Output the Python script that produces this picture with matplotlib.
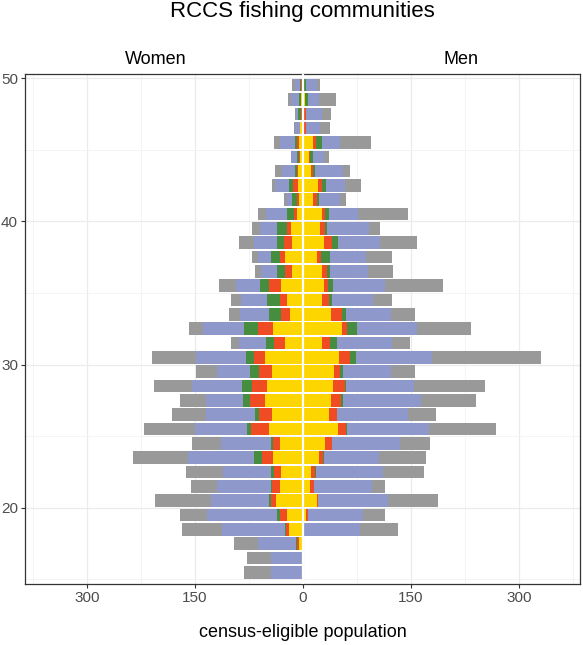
import matplotlib
matplotlib.use("Agg")
import matplotlib.pyplot as plt
import numpy as np

plt.rcParams["font.family"] = ["Liberation Sans", "DejaVu Sans"]

# ages 15..49, each bar covers [age, age+1)
ages = np.arange(15, 50)

# women, counts per category (stacked outward from 0)
w_yellow = [0, 0, 5, 19, 22, 38, 32, 31, 42, 32, 47, 43, 53, 50, 43, 53, 25, 42, 18, 22,
            31, 15, 25, 15, 17, 8, 5, 7, 7, 4, 6, 4, 0, 3, 0]
w_red = [0, 0, 3, 5, 10, 6, 11, 9, 15, 10, 25, 18, 21, 21, 18, 15, 15, 20, 13, 10,
         16, 10, 7, 11, 5, 4, 3, 7, 1, 1, 2, 0, 3, 0, 2]
w_green = [0, 0, 1, 1, 4, 3, 1, 4, 11, 2, 6, 6, 9, 14, 13, 11, 11, 20, 16, 18,
           13, 11, 12, 10, 14, 10, 7, 5, 3, 3, 3, 0, 4, 3, 2]
w_blue = [44, 44, 54, 88, 97, 81, 75, 67, 92, 70, 72, 68, 52, 69, 45, 70, 38, 57, 41, 36,
          33, 22, 18, 32, 24, 29, 7, 20, 18, 9, 21, 7, 3, 10, 7]
w_gray = [38, 34, 33, 55, 38, 78, 37, 52, 76, 40, 71, 47, 36, 53, 30, 61, 11, 19, 15, 14,
          24, 9, 9, 21, 11, 11, 4, 4, 10, 0, 8, 1, 1, 5, 4]

# men
m_yellow = [0, 0, 0, 0, 4, 19, 10, 12, 22, 31, 49, 36, 39, 42, 43, 50, 26, 54, 39, 26,
            29, 26, 19, 29, 24, 26, 14, 21, 11, 8, 14, 2, 0, 3, 0]
m_red = [0, 0, 0, 2, 3, 2, 5, 5, 6, 9, 11, 11, 14, 16, 8, 15, 12, 8, 15, 10,
         6, 7, 6, 11, 7, 5, 5, 5, 3, 2, 4, 2, 4, 0, 0]
m_green = [0, 0, 0, 0, 0, 0, 0, 1, 1, 0, 1, 0, 3, 2, 5, 9, 9, 13, 6, 4,
           7, 5, 13, 9, 2, 5, 3, 6, 3, 4, 8, 0, 0, 4, 5]
m_blue = [0, 0, 0, 77, 77, 97, 81, 93, 77, 95, 114, 99, 108, 94, 67, 105, 77, 83, 62, 58,
          72, 52, 50, 58, 59, 40, 29, 26, 39, 15, 25, 20, 22, 16, 15]
m_gray = [0, 0, 0, 53, 30, 70, 18, 57, 65, 41, 94, 39, 76, 99, 33, 152, 25, 75, 34, 26,
          80, 35, 36, 51, 15, 70, 9, 23, 9, 8, 43, 14, 13, 23, 4]

colors = ["#FDD600", "#F04C23", "#478D3F", "#8F98CA", "#999999"]

fig = plt.figure(figsize=(5.83, 6.45), dpi=100)
ax = fig.add_axes([25 / 583, 1 - 584 / 645, 555 / 583, 510 / 645])

y = ages + 0.5
h = 0.88
for side, series in ((-1, [w_yellow, w_red, w_green, w_blue, w_gray]),
                     (1, [m_yellow, m_red, m_green, m_blue, m_gray])):
    left = np.zeros(len(ages))
    for vals, c in zip(series, colors):
        v = np.array(vals) * side
        ax.barh(y, v, left=left, height=h, color=c, linewidth=0, zorder=2)
        left = left + v

ax.axvline(0, color="white", lw=1.6, zorder=3)

ax.set_xlim(-386, 385)
ax.set_ylim(14.68, 50.28)
ax.set_xticks([-300, -150, 0, 150, 300])
ax.set_xticklabels(["300", "150", "0", "150", "300"])
ax.set_xticks([-375, -225, -75, 75, 225, 375], minor=True)
ax.set_yticks([20, 30, 40, 50])
ax.set_yticks([15, 25, 35, 45], minor=True)
ax.grid(True, which="major", color="#EBEBEB", lw=0.9, zorder=0)
ax.grid(True, which="minor", color="#F2F2F2", lw=0.6, zorder=0)
ax.tick_params(which="major", length=3, color="#333333", labelcolor="#4D4D4D",
               labelsize=11, pad=2)
ax.tick_params(which="minor", length=0)
for s in ax.spines.values():
    s.set_color("#333333")
    s.set_linewidth(0.9)

ax.set_xlabel("census-eligible population", fontsize=13, labelpad=14)
fig.text(302 / 583, 1 - 12 / 645, "RCCS fishing communities", fontsize=16,
         ha="center", va="center")
ax.text(-205, 51.3, "Women", fontsize=13, ha="center", va="center")
ax.text(219, 51.3, "Men", fontsize=13, ha="center", va="center")
for t in ax.texts:
    t.set_clip_on(False)

fig.savefig("out.png", dpi=100)
